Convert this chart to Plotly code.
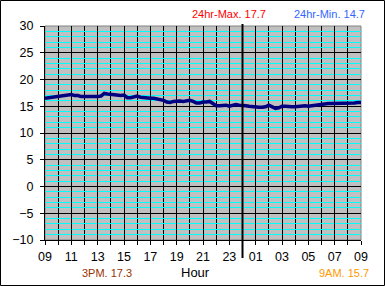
import plotly.graph_objects as go

# ---- data ----
hours_start = 9
temps = [
    16.5, 16.6, 16.7, 16.8,
    16.9, 17.0, 17.1, 17.2,
    17.2, 17.0, 17.0, 16.8,
    16.8, 16.7, 16.8, 16.7,
    16.8, 16.9, 17.4, 17.3,
    17.2, 17.1, 17.1, 17.0,
    17.1, 16.6, 16.6, 16.8,
    16.9, 16.7, 16.6, 16.6,
    16.5, 16.5, 16.4, 16.3,
    16.1, 15.8, 15.7, 15.9,
    16.0, 16.0, 15.9, 16.0,
    16.1, 15.9, 15.6, 15.6,
    15.8, 15.8, 15.9, 15.5,
    15.1, 15.1, 15.1, 15.2,
    15.0, 15.1, 15.3, 15.2,
    15.2, 15.1, 15.0, 14.9,
    14.8, 14.8, 14.8, 14.9,
    15.2, 14.9, 14.6, 14.7,
    15.0, 15.0, 14.9, 14.9,
    14.9, 15.0, 15.0, 15.1,
    15.0, 15.1, 15.1, 15.2,
    15.3, 15.4, 15.5, 15.5,
    15.5, 15.6, 15.5, 15.5,
    15.6, 15.5, 15.6, 15.7,
    15.7,
]
times = [i * 0.25 for i in range(len(temps))]
tick_positions = list(range(0, 25, 2))
tick_labels = ["09", "11", "13", "15", "17", "19", "21", "23", "01", "03", "05", "07", "09"]
midnight = 15
y_ticks = list(range(-10, 31, 5))

max_text = "24hr-Max. 17.7"
min_text = "24hr-Min. 14.7"
pm_text = "3PM. 17.3"
am_text = "9AM. 15.7"

# ---- layout geometry (pixels) ----
W, H = 385, 286
L, R, T, B = 45, 361, 26, 240
pw, ph = R - L, B - T


def px(x):
    return (x - L) / pw


def py(y):
    return (B - y) / ph


font = "Liberation Sans, Arial, sans-serif"

fig = go.Figure()
fig.add_trace(go.Scatter(x=times, y=temps, mode="lines",
                         line=dict(color="#000080", width=3.5),
                         hoverinfo="skip", showlegend=False))

fig.update_layout(
    width=W, height=H,
    margin=dict(l=L, r=W - R, t=T, b=H - B),
    paper_bgcolor="white", plot_bgcolor="#C0C0C0",
    font=dict(family=font, size=12, color="black"),
    xaxis=dict(range=[0, 24], tickmode="array", tickvals=tick_positions, ticktext=tick_labels,
               showgrid=True, gridcolor="black", gridwidth=1,
               minor=dict(dtick=1, showgrid=True, gridcolor="black", gridwidth=1,
                          ticks="outside", ticklen=4, tickcolor="black"),
               ticks="outside", ticklen=4, tickcolor="black",
               showline=True, linecolor="black", linewidth=1, mirror=False,
               zeroline=False, tickfont=dict(size=12.5), ticklabelstandoff=1),
    yaxis=dict(range=[-10, 30], tickmode="array", tickvals=y_ticks,
               showgrid=True, gridcolor="black", gridwidth=1,
               minor=dict(dtick=1, showgrid=True, gridcolor="#00FFFF", gridwidth=1),
               ticks="outside", ticklen=4, tickcolor="black",
               showline=True, linecolor="black", linewidth=1,
               zeroline=False, tickfont=dict(size=12.5), ticklabelstandoff=4),
)

shapes = [
    # plot-area outline (top / right)
    dict(type="rect", xref="paper", yref="paper", x0=0, x1=1, y0=0, y1=1,
         line=dict(color="#808080", width=1), layer="below"),
    # midnight line
    dict(type="line", xref="x", yref="paper", x0=midnight, x1=midnight,
         y0=py(258), y1=py(24), line=dict(color="black", width=2)),
    # outer frame
    dict(type="rect", xref="paper", yref="paper",
         x0=px(0.5), x1=px(384.5), y0=py(285.5), y1=py(0.5),
         line=dict(color="black", width=1)),
]
fig.update_layout(shapes=shapes)

anns = [
    (max_text, 228.5, 14, "#FF0000", 11),
    (min_text, 329, 14, "#3366FF", 11),
    (pm_text, 107, 273, "#993300", 11),
    ("Hour", 195, 272, "black", 13),
    (am_text, 344, 273, "#FF9900", 11),
]
for txt, x, y, c, s in anns:
    fig.add_annotation(text=txt, xref="paper", yref="paper", x=px(x), y=py(y),
                       xanchor="center", yanchor="middle", showarrow=False,
                       font=dict(family=font, size=s, color=c))

fig.write_html("out.html")
